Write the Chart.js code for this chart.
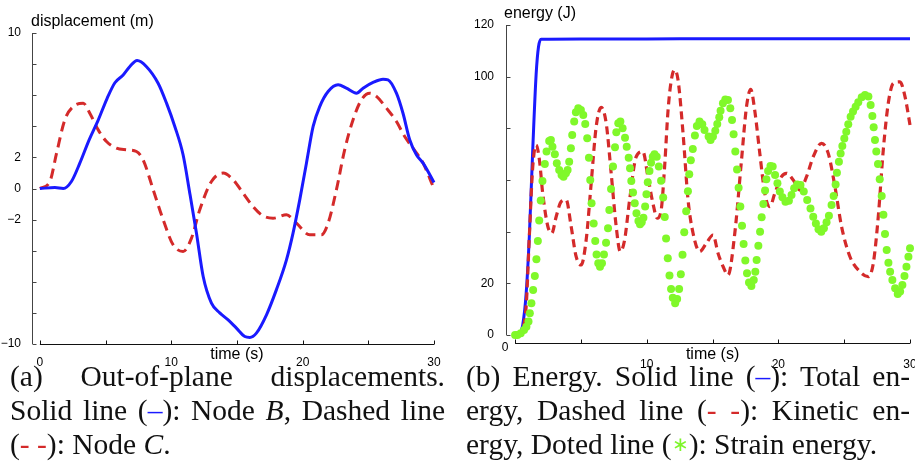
<!DOCTYPE html>
<html>
<head>
<meta charset="utf-8">
<script src="https://cdn.jsdelivr.net/npm/chart.js@4/dist/chart.umd.min.js"></script>
<style>
  body { margin: 0; width: 915px; height: 476px; overflow: hidden; position: relative; background: #fff; }
  canvas { position: absolute; top: 0; }
  .cap { position: absolute; font-family: "Liberation Serif", serif; font-size: 29.5px; color: #111; }
  .cap div { height: 34px; line-height: 34px; }
  .cap .j { text-align: justify; text-align-last: justify; }
  .blue { color: #1a1aff; }
  .red { color: #d42a2a; }
  .green { color: #7ef52a; font-size: 20px; vertical-align: 3px; }
</style>
</head>
<body>
<canvas id="dispChart" width="457" height="372" style="left:0"></canvas>
<canvas id="energyChart" width="480" height="372" style="left:457px"></canvas>

<div class="cap" style="left:10px; top:359px; width:435px">
  <div class="j">(a) Out-of-plane displacements.</div>
  <div class="j">Solid line (<span class="blue">–</span>): Node <i>B</i>, Dashed line</div>
  <div>(<span class="red">- -</span>): Node <i>C</i>.</div>
</div>
<div class="cap" style="left:466px; top:359px; width:444px">
  <div class="j">(b) Energy. Solid line (<span class="blue">–</span>): Total en-</div>
  <div class="j">ergy, Dashed line (<span class="red">- -</span>): Kinetic en-</div>
  <div>ergy, Doted line (<span class="green">∗</span>): Strain energy.</div>
</div>

<script>
// displacement chart (a)
const nodeBTime = [0, 1.14, 1.78, 2.4, 3.04, 3.75, 4.44, 5.12, 5.71, 6.34, 6.85, 7.4, 8.1, 9.0, 9.64, 10.27, 10.9, 11.41, 11.92, 12.43, 13.06, 13.69, 14.33, 14.96, 15.6, 15.98, 16.48, 17.25, 18.0, 18.77, 19.27, 19.78, 20.29, 20.8, 21.3, 21.94, 22.7, 23.33, 24.1, 24.6, 25.36, 26.12, 26.5, 27.14, 27.64, 28.15, 28.66, 29.17, 30];
const nodeBDisp = [0, 0.06, 0, 0.45, 1.63, 3.13, 4.4, 5.8, 6.8, 7.3, 7.85, 8.23, 7.85, 6.77, 5.49, 3.99, 2.17, -0.3, -2.87, -5.66, -7.37, -8.0, -8.45, -8.98, -9.52, -9.58, -9.3, -8.12, -6.52, -4.59, -2.87, -0.73, 1.63, 3.99, 5.27, 6.24, 6.67, 6.45, 6.13, 6.45, 6.82, 7.03, 6.99, 6.13, 4.84, 3.13, 2.17, 1.63, 0.39];
const nodeCTime = [0, 0.76, 1.27, 1.9, 2.54, 3.3, 3.8, 4.44, 5.07, 5.83, 6.59, 7.35, 7.86, 8.63, 9.38, 10.14, 10.9, 11.54, 12.17, 13.06, 13.95, 14.71, 15.47, 16.23, 16.99, 17.75, 18.77, 19.53, 20.54, 21.43, 21.94, 22.57, 23.2, 23.84, 24.47, 25.11, 25.62, 26.38, 27.14, 27.77, 28.4, 29.17, 29.93];
const nodeCDisp = [0, 0.45, 2.27, 4.42, 5.27, 5.49, 4.84, 3.77, 3.02, 2.59, 2.49, 2.38, 1.84, -0.09, -2.0, -3.62, -4.05, -3.19, -1.37, 0.45, 0.99, 0.56, -0.3, -1.16, -1.76, -1.91, -1.69, -2.23, -2.98, -2.98, -2.23, -0.09, 2.49, 4.42, 5.7, 6.13, 5.92, 5.17, 4.31, 3.34, 2.59, 1.63, 0.13];

// energy chart (b)
const totalTime = [0, 0.33, 0.58, 0.84, 1.09, 1.34, 1.6, 1.78, 1.98, 5, 10, 15, 20, 25, 30];
const totalEnergy = [0, 0.6, 3.9, 16, 39, 71.6, 101, 111.6, 114.5, 114.6, 114.6, 114.7, 114.7, 114.7, 114.7];
const kineticTime = [0, 0.58, 0.84, 1.09, 1.34, 1.6, 1.85, 2.1, 2.49, 2.79, 3.12, 3.5, 3.88, 4.26, 4.64, 5.02, 5.4, 5.78, 6.16, 6.54, 6.92, 7.3, 7.68, 7.99, 8.32, 8.7, 9.2, 9.71, 10.09, 10.47, 10.8, 11.1, 11.36, 11.62, 11.87, 12.12, 12.38, 12.76, 13.14, 13.52, 14.02, 14.53, 15.04, 15.42, 15.8, 16.18, 16.69, 17.2, 17.58, 17.9, 18.2, 18.59, 18.97, 19.35, 19.73, 20.24, 20.62, 21.13, 21.64, 22.14, 22.65, 23.28, 23.79, 24.3, 24.8, 25.44, 26.2, 26.83, 27.21, 27.59, 27.97, 28.35, 28.73, 29.24, 29.62, 30];
const kineticEnergy = [0, 2.6, 11, 39, 65, 73.5, 67.7, 54.8, 42, 39.4, 45.8, 51.6, 52.3, 42, 30.3, 27.1, 36.8, 58.7, 80.6, 88.1, 82, 62.6, 42, 32.3, 36.8, 52.3, 69, 71, 61.3, 51, 45.2, 48.4, 65.2, 87, 98.7, 102.6, 98.7, 78, 52.3, 39.4, 32.3, 35.5, 38.7, 31.6, 26.5, 23.2, 39.4, 67.7, 88.4, 95.1, 87.1, 70.3, 54.8, 49.7, 54.8, 61.3, 62.6, 60, 56.1, 61.3, 69, 74.2, 70.3, 57.4, 42, 30.3, 24.5, 22.6, 27.7, 45.8, 71.6, 89.7, 97.4, 98, 92.3, 81.3];
// strain energy: one entry per plotted dot
const strainTime = [0, 0.18, 0.43, 0.68, 0.86, 1.02, 1.12, 1.24, 1.37, 1.5,
  1.62, 1.73, 1.83, 1.95, 2.08, 2.26, 2.39, 2.59, 2.72, 2.84,
  3.02, 3.17, 3.35, 3.53, 3.68, 3.86, 3.99, 4.11, 4.24, 4.34,
  4.49, 4.62, 4.8, 5.0, 5.18, 5.33, 5.48, 5.61, 5.71, 5.81,
  5.97, 6.09, 6.19, 6.32, 6.45, 6.6, 6.75, 6.91, 7.06, 7.16,
  7.29, 7.44, 7.59, 7.69, 7.84, 8.0, 8.17, 8.35, 8.48, 8.63,
  8.73, 8.83, 8.96, 9.09, 9.22, 9.37, 9.49, 9.62, 9.75, 9.88,
  9.98, 10.08, 10.21, 10.33, 10.46, 10.59, 10.76, 10.92, 11.09, 11.25,
  11.37, 11.47, 11.6, 11.73, 11.85, 11.98, 12.16, 12.31, 12.46, 12.59,
  12.72, 12.85, 13.0, 13.13, 13.23, 13.35, 13.5, 13.66, 13.81, 14.01,
  14.22, 14.39, 14.7, 14.85, 15.03, 15.21, 15.36, 15.51, 15.61, 15.79,
  15.97, 16.17, 16.35, 16.48, 16.6, 16.73, 16.86, 16.98, 17.11, 17.24,
  17.36, 17.49, 17.62, 17.77, 17.95, 18.13, 18.25, 18.35, 18.48, 18.61,
  18.73, 18.86, 18.99, 19.09, 19.22, 19.4, 19.57, 19.75, 19.93, 20.11,
  20.31, 20.54, 20.8, 21.0, 21.2, 21.43, 21.68, 21.93, 22.19, 22.44,
  22.65, 22.85, 23.05, 23.26, 23.46, 23.66, 23.84, 24.04, 24.2, 24.35,
  24.45, 24.6, 24.73, 24.86, 25.01, 25.16, 25.31, 25.49, 25.67, 25.87,
  26.07, 26.33, 26.58, 26.84, 27.01, 27.14, 27.24, 27.34, 27.44, 27.57,
  27.7, 27.85, 27.98, 28.1, 28.23, 28.36, 28.49, 28.66, 28.87, 29.07,
  29.25, 29.42, 29.58, 29.73, 29.88, 30];
const strainEnergy = [0, 0, 0.65, 1.94, 3.2, 5.2, 8.4, 12.3, 17.4, 22.8,
  29.3, 36.4, 44.3, 52.1, 59.6, 66.2, 71, 75.1, 75.5, 72.9,
  70, 66.5, 63.9, 61.9, 61.3, 62.6, 63.9, 67.1, 72.3, 77.4,
  82.6, 86.2, 87.8, 87.1, 85.2, 81.7, 76.2, 68.6, 60, 51,
  43.2, 36.4, 31.2, 27.8, 26.4, 27.8, 31.2, 35.7, 41.3, 48.4,
  56.5, 65.2, 72.7, 78.5, 82, 82.6, 80, 76.4, 72.9, 68.6,
  64.5, 59.6, 55.2, 51, 47.1, 44.1, 42.9, 43.6, 45.4, 49.7,
  54.5, 59.1, 63.5, 66.7, 69, 70, 69, 65.2, 59.7, 53.2,
  45.7, 37.4, 29.7, 23, 17.8, 14.4, 12.3, 13.9, 17.8, 23.5,
  31.1, 39.8, 47.9, 55.6, 62.2, 67.6, 72, 77.2, 80.9, 82.6,
  81.6, 79.4, 76.8, 75.5, 76.8, 79.1, 81.7, 84.3, 86.8, 89.7,
  91.2, 91, 87.8, 83.2, 77.7, 71, 64.1, 57, 49.7, 42.3,
  35.2, 28.8, 23.9, 20.3, 19, 21.3, 24.5, 29, 34.5, 40,
  45.6, 50.7, 55.9, 60.3, 63.5, 65.4, 65.2, 61.9, 58.7, 55.5,
  53.3, 51.6, 52, 54.2, 56.8, 58.3, 58.1, 55.5, 52.3, 49,
  45.8, 43.2, 40.9, 40, 41.3, 43.6, 46.2, 50.3, 53.8, 58.3,
  62.8, 67.1, 70.3, 73.2, 76.1, 78.7, 81.6, 84.5, 86.5, 88.4,
  90.1, 92, 92.9, 92.3, 89, 84.8, 80.4, 75.5, 71, 66.2,
  60.3, 53.8, 46.5, 39.1, 32.9, 28, 24.5, 21.3, 18.1, 15.9,
  16.8, 19.4, 22.8, 26.4, 30.3, 33.6];

// ticks (marks every step, only some labelled)
const timeTicks = [0, 5, 10, 15, 20, 25, 30];
const timeTickLabels = [0, 10, 20, 30];
const dispTicks = [-10, -8, -6, -4, -2, 0, 2, 4, 6, 8, 10];
const dispTickLabels = [-10, -2, 0, 2, 10];
const energyTicks = [0, 20, 40, 60, 80, 100, 120];
const energyTickLabels = [0, 20, 100, 120];

const BLUE = '#1a1aff', RED = '#d42a2a', GREEN = '#80f82a';
const TICK_FONT = { family: 'Liberation Sans', size: 12 };

const pts = (xs, ys) => xs.map((x, i) => ({ x: x, y: ys[i] }));
const fmt = v => (v < 0 ? '\u2212' + Math.abs(v) : String(v));

// axis lines only over the data range, tick marks pointing inwards, titles
const axesFrame = {
  id: 'axesFrame',
  beforeDatasetsDraw(chart, args, o) {
    const { ctx } = chart;
    const xs = chart.scales.x, ys = chart.scales.y;
    const ax = Math.round(xs.left) + 0.5;
    const ay = Math.round(xs.top) + 0.5;
    const x0 = xs.getPixelForValue(o.xRange[0]), x1 = xs.getPixelForValue(o.xRange[1]);
    const y0 = ys.getPixelForValue(o.yRange[0]), y1 = ys.getPixelForValue(o.yRange[1]);
    ctx.save();
    ctx.lineWidth = 1;
    ctx.strokeStyle = '#444';
    ctx.beginPath();
    ctx.moveTo(ax, y0); ctx.lineTo(ax, y1);
    o.yTicks.forEach(v => {
      const p = Math.round(ys.getPixelForValue(v)) + 0.5;
      ctx.moveTo(ax, p); ctx.lineTo(ax + 4, p);
    });
    ctx.stroke();
    ctx.strokeStyle = '#111';
    ctx.beginPath();
    ctx.moveTo(x0, ay); ctx.lineTo(x1, ay);
    o.xTicks.forEach(v => {
      const p = Math.round(xs.getPixelForValue(v)) + 0.5;
      ctx.moveTo(p, ay); ctx.lineTo(p, ay - 4);
    });
    ctx.stroke();
    ctx.restore();
  },
  afterDraw(chart, args, o) {
    const { ctx } = chart;
    const xs = chart.scales.x;
    ctx.save();
    ctx.fillStyle = '#000';
    ctx.font = '16px "Liberation Sans"';
    ctx.textBaseline = 'alphabetic';
    ctx.textAlign = 'left';
    ctx.fillText(o.yTitle, o.yTitleAt[0], o.yTitleAt[1]);
    ctx.textAlign = 'center';
    ctx.fillText('time (s)', (xs.getPixelForValue(0) + xs.getPixelForValue(30)) / 2, o.xTitleBase);
    if (o.zeroOffset) {
      ctx.font = '12px "Liberation Sans"';
      ctx.textBaseline = 'middle';
      ctx.fillText('0', xs.getPixelForValue(0) - 10, xs.top + 5);
    }
    ctx.restore();
  }
};

function scaleX(min, labels, pad, height) {
  return {
    type: 'linear', min: min, max: 30,
    grid: { display: false }, border: { display: false },
    afterBuildTicks: s => { s.ticks = timeTicks.map(v => ({ value: v })); },
    afterFit: s => { s.height = height; },
    ticks: {
      autoSkip: false, maxRotation: 0, padding: pad, color: '#000', font: TICK_FONT,
      callback: v => (labels.includes(v) ? fmt(v) : '')
    }
  };
}

function scaleY(min, max, ticks, labels, width, pad) {
  return {
    type: 'linear', min: min, max: max,
    grid: { display: false }, border: { display: false },
    afterBuildTicks: s => { s.ticks = ticks.map(v => ({ value: v })); },
    afterFit: s => { s.width = width; },
    ticks: {
      autoSkip: false, padding: pad, color: '#000', font: TICK_FONT,
      callback: v => (labels.includes(v) ? fmt(v) : '')
    }
  };
}

new Chart(document.getElementById('dispChart'), {
  type: 'line',
  data: {
    datasets: [
      { label: 'Node B', data: pts(nodeBTime, nodeBDisp), borderColor: BLUE, borderWidth: 3,
        pointRadius: 0, cubicInterpolationMode: 'monotone', order: 0, clip: 4 },
      { label: 'Node C', data: pts(nodeCTime, nodeCDisp), borderColor: RED, borderWidth: 3,
        borderDash: [10, 6], pointRadius: 0, cubicInterpolationMode: 'monotone', order: 1, clip: 4 }
    ]
  },
  options: {
    responsive: false, animation: false,
    layout: { padding: { top: 33, right: 23, left: 0, bottom: 0 } },
    plugins: {
      legend: { display: false }, tooltip: { enabled: false },
      axesFrame: { xRange: [0, 30], yRange: [-10, 10], xTicks: timeTicks, yTicks: dispTicks,
        yTitle: 'displacement (m)', yTitleAt: [31, 26], xTitleBase: 359 }
    },
    scales: {
      x: scaleX(-0.6, timeTickLabels, 3, 28),
      y: scaleY(-10, 10, dispTicks, dispTickLabels, 32, 3)
    }
  },
  plugins: [axesFrame]
});

new Chart(document.getElementById('energyChart'), {
  type: 'line',
  data: {
    datasets: [
      { label: 'Total energy', data: pts(totalTime, totalEnergy), borderColor: BLUE, borderWidth: 3,
        pointRadius: 0, cubicInterpolationMode: 'monotone', order: 2, clip: 4 },
      { label: 'Kinetic energy', data: pts(kineticTime, kineticEnergy), borderColor: RED, borderWidth: 3.2,
        borderDash: [8, 5], pointRadius: 0, cubicInterpolationMode: 'monotone', order: 1, clip: 4 },
      { label: 'Strain energy', data: pts(strainTime, strainEnergy), showLine: false,
        pointRadius: 4, pointBackgroundColor: GREEN, pointBorderWidth: 0, order: 0, clip: 6 }
    ]
  },
  options: {
    responsive: false, animation: false,
    layout: { padding: { top: 25, right: 27, left: 0, bottom: 0 } },
    plugins: {
      legend: { display: false }, tooltip: { enabled: false },
      axesFrame: { xRange: [0, 30], yRange: [0, 120], xTicks: timeTicks, yTicks: energyTicks,
        yTitle: 'energy (J)', yTitleAt: [47, 18], xTitleBase: 359, zeroOffset: true }
    },
    scales: {
      x: scaleX(-0.69, timeTickLabels.filter(v => v !== 0), 6, 29),
      y: scaleY(-3.1, 120, energyTicks, energyTickLabels, 49, 4)
    }
  },
  plugins: [axesFrame]
});
</script>
</body>
</html>
